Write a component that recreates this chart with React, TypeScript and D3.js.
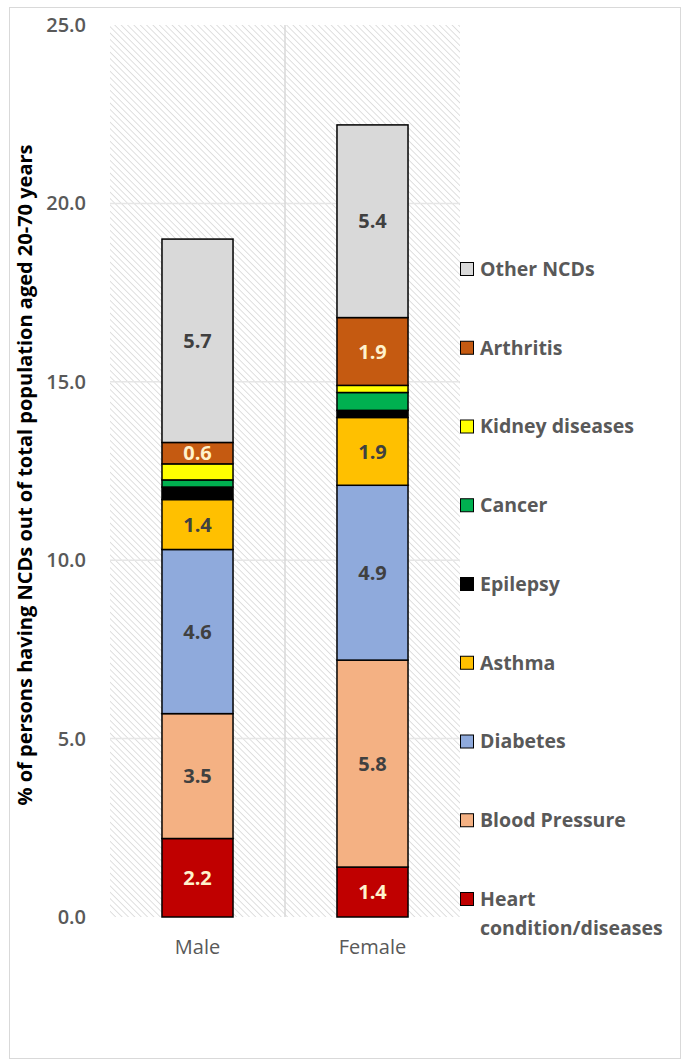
import React from "react";
import * as d3 from "d3";

const categories = ["Male", "Female"];
const seriesNames = [
  "Heart condition/diseases",
  "Blood Pressure",
  "Diabetes",
  "Asthma",
  "Epilepsy",
  "Cancer",
  "Kidney diseases",
  "Arthritis",
  "Other NCDs",
];
const maleValues = [2.2, 3.5, 4.6, 1.4, 0.35, 0.2, 0.45, 0.6, 5.7];
const femaleValues = [1.4, 5.8, 4.9, 1.9, 0.2, 0.5, 0.2, 1.9, 5.4];
const seriesColors = [
  "#C00000",
  "#F4B183",
  "#8FAADC",
  "#FFC000",
  "#000000",
  "#00B050",
  "#FFFF00",
  "#C55A11",
  "#D9D9D9",
];
const labelColors = [
  "#FFF2CC",
  "#404040",
  "#404040",
  "#404040",
  "#404040",
  "#404040",
  "#404040",
  "#FFF2CC",
  "#404040",
];
const yTicks = [0, 5, 10, 15, 20, 25];
const yTitle = "% of persons having NCDs out of total population aged 20-70 years";

const W = 682;
const H = 1064;
const plotLeft = 110;
const plotRight = 460;
const plotTop = 25;
const plotBottom = 917;

export default function App() {
  const y = d3.scaleLinear().domain([0, 25]).range([plotBottom, plotTop]);
  const x = d3
    .scaleBand<string>()
    .domain(categories)
    .range([plotLeft, plotRight])
    .paddingInner(0.594)
    .paddingOuter(0.297);

  const rows = categories.map((c, i) => {
    const vals = i === 0 ? maleValues : femaleValues;
    const obj: any = { category: c };
    seriesNames.forEach((s, j) => (obj[s] = vals[j]));
    return obj;
  });
  const stacked = d3.stack<any>().keys(seriesNames)(rows);
  const font = "'Open Sans', 'Noto Sans', sans-serif";

  const legendTop = 269;
  const legendStep = 78.75;

  return (
    <svg
      width={W}
      height={H}
      style={{ position: "absolute", left: 0, top: 0, background: "#fff" }}
      fontFamily={font}
    >
      <defs>
        <pattern
          id="hatch"
          width={4.5}
          height={4.5}
          patternUnits="userSpaceOnUse"
          patternTransform="rotate(-45)"
        >
          <rect width={4.5} height={4.5} fill="#ffffff" />
          <line x1={0} y1={0} x2={0} y2={4.5} stroke="#cfcfcf" strokeWidth={1.3} />
        </pattern>
      </defs>
      <rect x={9.5} y={7.5} width={671} height={1051} fill="#fff" stroke="#d9d9d9" />
      <rect
        x={plotLeft}
        y={plotTop}
        width={plotRight - plotLeft}
        height={plotBottom - plotTop}
        fill="url(#hatch)"
      />
      {yTicks
        .filter((t) => t > 0 && t < 25)
        .map((t) => (
          <line
            key={t}
            x1={plotLeft}
            x2={plotRight}
            y1={y(t)}
            y2={y(t)}
            stroke="#e6e6e6"
            strokeWidth={1.5}
          />
        ))}
      <line
        x1={(plotLeft + plotRight) / 2}
        x2={(plotLeft + plotRight) / 2}
        y1={plotTop}
        y2={plotBottom}
        stroke="#d9d9d9"
        strokeWidth={1.5}
      />
      {yTicks.map((t) => (
        <text
          key={t}
          x={86}
          y={y(t)}
          dy="0.35em"
          textAnchor="end"
          fontSize={20}
          fontWeight={600}
          fill="#595959"
        >
          {t.toFixed(1)}
        </text>
      ))}
      <text
        transform={`translate(25, 475) rotate(-90)`}
        textAnchor="middle"
        dy="0.35em"
        fontSize={20}
        fontWeight="bold"
        fill="#000"
      >
        {yTitle}
      </text>
      {stacked.map((layer, j) =>
        layer.map((d, i) => {
          const cat = categories[i];
          const x0 = x(cat)!;
          const y0 = y(d[1]);
          const h = y(d[0]) - y(d[1]);
          const v = d[1] - d[0];
          return (
            <g key={`${j}-${i}`}>
              <rect
                x={x0}
                y={y0}
                width={x.bandwidth()}
                height={h}
                fill={seriesColors[j]}
                stroke="#000"
                strokeWidth={1.5}
              />
              {v >= 0.55 && (
                <text
                  x={x0 + x.bandwidth() / 2}
                  y={y0 + h / 2}
                  dy="0.36em"
                  textAnchor="middle"
                  fontSize={20}
                  fontWeight="bold"
                  fill={labelColors[j]}
                >
                  {v.toFixed(1)}
                </text>
              )}
            </g>
          );
        })
      )}
      {categories.map((c) => (
        <text
          key={c}
          x={x(c)! + x.bandwidth() / 2}
          y={947}
          dy="0.35em"
          textAnchor="middle"
          fontSize={20}
          fill="#595959"
        >
          {c}
        </text>
      ))}
      {seriesNames
        .slice()
        .reverse()
        .map((s, k) => {
          const j = seriesNames.length - 1 - k;
          const cy = legendTop + k * legendStep;
          const lines = s === "Heart condition/diseases" ? ["Heart", "condition/diseases"] : [s];
          return (
            <g key={s}>
              <rect
                x={460.5}
                y={cy - 6.5}
                width={13}
                height={13}
                fill={seriesColors[j]}
                stroke="#000"
                strokeWidth={1}
              />
              {lines.map((ln, li) => (
                <text
                  key={li}
                  x={480}
                  y={cy + li * 29}
                  dy="0.35em"
                  fontSize={19.5}
                  fontWeight="bold"
                  fill="#595959"
                >
                  {ln}
                </text>
              ))}
            </g>
          );
        })}
    </svg>
  );
}
